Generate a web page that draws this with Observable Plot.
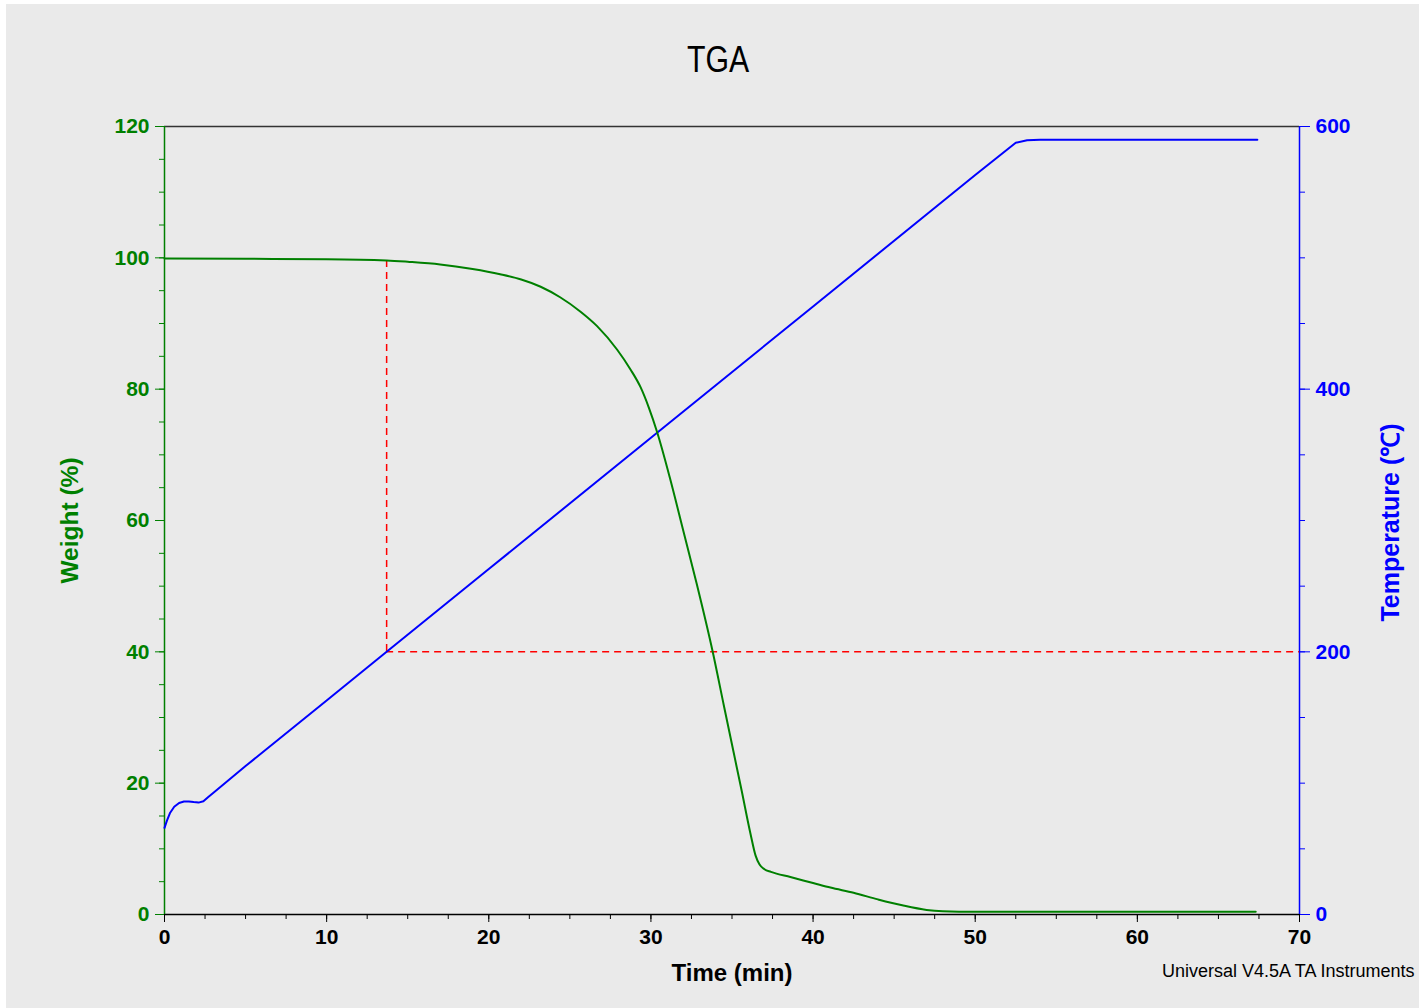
<!DOCTYPE html>
<html>
<head>
<meta charset="utf-8">
<script src="https://cdn.jsdelivr.net/npm/d3@7"></script>
<script src="https://cdn.jsdelivr.net/npm/@observablehq/plot@0.6"></script>
<style>
  body { margin: 0; background: #ffffff; }
  #wrap { position: absolute; left: 6px; top: 4px; width: 1413px; height: 1004px; background: #eaeaea; overflow: hidden; font-family: "Liberation Sans", Arial, sans-serif; }
  #title { position: absolute; left: 0; top: 36px; width: 1424px; text-align: center; font-family: "Liberation Sans", Arial, sans-serif; font-size: 36px; line-height: 40px; color: #000; }
  #title span { display: inline-block; transform: scaleX(0.84); }
  #chart { position: absolute; left: 0; top: 90px; }
  #caption { position: absolute; left: 1156px; top: 957px; font-size: 18px; line-height: 20px; color: #000; white-space: nowrap; }
</style>
</head>
<body>
<div id="wrap">
  <div id="title"><span>TGA</span></div>
  <div id="chart"></div>
  <div id="caption">Universal V4.5A TA Instruments</div>
</div>
<script>
// Weight (%) vs time (min)
const weightTime = [0, 5, 10, 13.7, 15, 17, 19, 20.7, 22, 23.2, 24.4, 25.66, 26.68, 27.92, 28.74, 29.36, 29.87, 30.39, 31.2, 32.0, 32.8, 33.82, 34.5, 35.1, 35.6, 36.14, 36.45, 36.7, 37.0, 37.4, 38.6, 40, 41.07, 42.5, 44, 45.5, 47, 48, 50, 55, 60, 67.3];
const weightPct  = [99.9, 99.85, 99.8, 99.6, 99.4, 99.0, 98.3, 97.5, 96.7, 95.6, 94.0, 91.8, 89.6, 86.0, 83.0, 80.3, 77.2, 73.4, 66.2, 58.4, 50.6, 39.9, 31.8, 24.7, 18.8, 12.3, 9.0, 7.6, 6.9, 6.5, 5.7, 4.8, 4.1, 3.3, 2.3, 1.4, 0.7, 0.5, 0.4, 0.4, 0.4, 0.4];

// Temperature (°C) vs time (min)
const tempTime = [0, 0.15, 0.35, 0.6, 0.9, 1.2, 1.5, 1.8, 2.1, 2.4, 2.7, 3, 5, 10, 13.7, 20, 30, 40, 50, 52.5, 53.2, 54, 55, 60, 67.4];
const tempC    = [66, 71.5, 77.5, 82, 84.9, 86.0, 86.1, 85.6, 85.2, 86.2, 89.5, 92.5, 113, 163, 200, 263, 363, 463, 563, 587.6, 589.5, 590, 590, 590, 590];

// Onset marker
const onsetTime = [13.7];
const onsetWeightTop = [99.6];
const onsetTemp = [200];

// Axis ticks
const xMajor = [0, 10, 20, 30, 40, 50, 60, 70];
const xMinor = d3.range(0, 70.01, 2.5);
const wMajor = [0, 20, 40, 60, 80, 100, 120];
const wMinor = d3.range(0, 120.01, 5);
const tMajor = [0, 200, 400, 600];
const tMinor = d3.range(0, 600.01, 50);

const GREEN = "#008000";
const BLUE = "#0000ff";
const T2W = 120 / 600; // right axis maps 0–600 °C onto 0–120 %

const weight = weightTime.map((t, i) => ({t, w: weightPct[i]}));
const temp = tempTime.map((t, i) => ({t, T: tempC[i]}));

const fontBase = {fontSize: 21, fontWeight: "bold", label: null};

const chart = Plot.plot({
  width: 1413,
  height: 914,
  marginTop: 32,
  marginLeft: 158,
  marginRight: 120,
  marginBottom: 94,
  x: {domain: [0, 70]},
  y: {domain: [0, 120]},
  style: {background: "transparent", fontFamily: "'Liberation Sans', Arial, sans-serif", overflow: "visible"},
  marks: [
    Plot.ruleY([120], {stroke: "#333", strokeWidth: 1.5}),
    // minor/major x ticks
    Plot.axisX({ticks: xMinor, tickSize: 5, tickFormat: () => "", label: null, stroke: "#000"}),
    Plot.axisX({ticks: xMajor, tickSize: 8, tickPadding: 7, ...fontBase, fill: "#000", stroke: "#000"}),
    // left axis
    Plot.axisY({ticks: wMinor, tickSize: 5, tickFormat: () => "", label: null, stroke: GREEN}),
    Plot.axisY({ticks: wMajor, tickSize: 9, tickPadding: 6, ...fontBase, fill: GREEN, stroke: GREEN}),
    // right axis
    Plot.axisY({anchor: "right", ticks: tMinor.map(d => d * T2W), tickSize: 5, tickFormat: () => "", label: null, stroke: BLUE}),
    Plot.axisY({anchor: "right", ticks: tMajor.map(d => d * T2W), tickFormat: d => Math.round(d / T2W), tickSize: 10, tickPadding: 6, ...fontBase, fill: BLUE, stroke: BLUE}),
    Plot.ruleY([0], {stroke: "#000", strokeWidth: 1.5}),
    Plot.ruleX([0], {stroke: GREEN, strokeWidth: 1.5}),
    Plot.ruleX([70], {stroke: BLUE, strokeWidth: 1.5}),
    // onset dashed lines
    Plot.ruleX(onsetTime, {x: d => d, y1: onsetWeightTop[0], y2: onsetTemp[0] * T2W, stroke: "#ff0000", strokeWidth: 1.5, strokeDasharray: "7,5"}),
    Plot.ruleY(onsetTemp, {y: d => d * T2W, x1: onsetTime[0], x2: 70, stroke: "#ff0000", strokeWidth: 1.5, strokeDasharray: "7,5"}),
    // curves
    Plot.line(temp, {x: "t", y: d => d.T * T2W, stroke: BLUE, strokeWidth: 2, curve: "linear"}),
    Plot.line(weight, {x: "t", y: "w", stroke: GREEN, strokeWidth: 2, curve: "monotone-x"}),
    // axis titles
    Plot.text(["Time (min)"], {frameAnchor: "bottom", dy: 59, lineAnchor: "middle", textAnchor: "middle", fontSize: 24, fontWeight: "bold", fill: "#000"}),
    Plot.text(["Weight (%)"], {frameAnchor: "left", dx: -94, rotate: -90, textAnchor: "middle", lineAnchor: "middle", fontSize: 24.5, fontWeight: "bold", fill: GREEN}),
    Plot.text(["Temperature (℃)"], {frameAnchor: "right", dx: 91, dy: 2, rotate: -90, textAnchor: "middle", lineAnchor: "middle", fontSize: 25, fontWeight: "bold", fill: BLUE})
  ]
});
document.getElementById("chart").appendChild(chart);
</script>
</body>
</html>
